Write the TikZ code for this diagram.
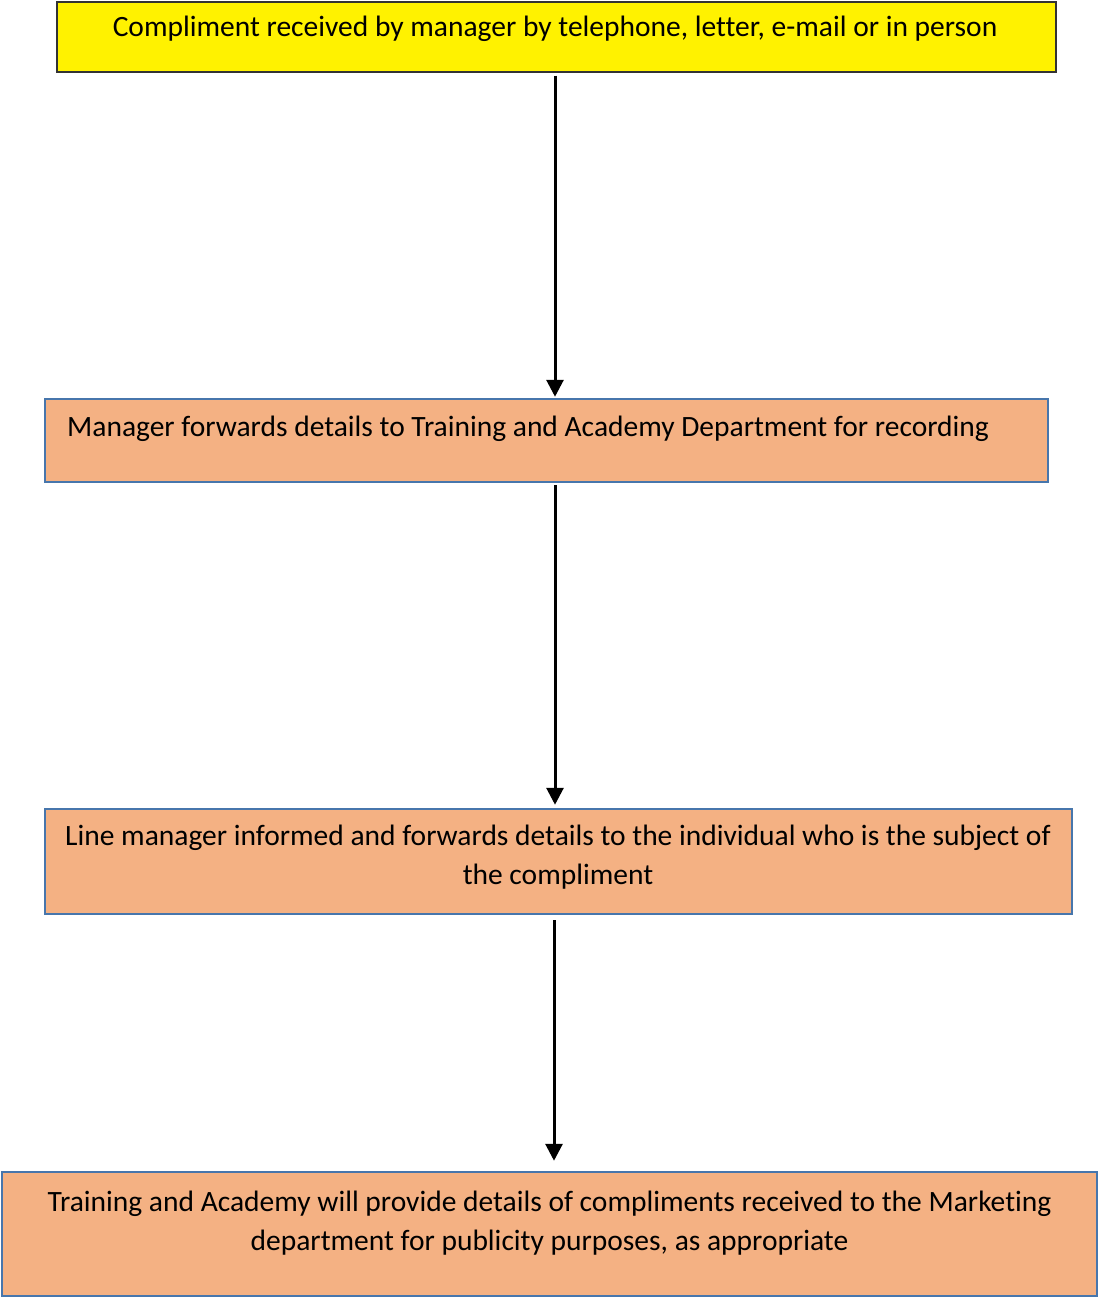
\documentclass[tikz,border=0pt]{standalone}
\usepackage{fontspec}
\setmainfont[Ligatures={NoCommon}]{Carlito}
\usetikzlibrary{arrows.meta}
\definecolor{peach}{RGB}{244,177,131}
\definecolor{edgeblue}{RGB}{71,118,172}
\tikzset{
  stepbox/.style={draw=edgeblue,line width=2.5pt,fill=peach,inner sep=0pt},
  startbox/.style={draw=black!80,line width=1.5pt,fill=yellow,inner sep=0pt},
  steptext/.style={anchor=base,align=center,inner sep=0pt,font=\fontsize{29.5}{39}\selectfont},
  flow/.style={-{Triangle[length=17pt,width=17pt]},line width=3pt}
}
\begin{document}
\begin{tikzpicture}[x=1pt,y=-1pt]
			\useasboundingbox (0,0) rectangle (1098,1297);
			\node[startbox,minimum width=999pt,minimum height=70pt] (box1) at (556.5,37) {};
			\node[steptext] (txt1) at (555,37) {Compliment received by manager by telephone, letter, e-mail or in person};
			\node[stepbox,minimum width=1003pt,minimum height=83pt] (box2) at (546.5,440.5) {};
			\node[steptext] (txt2) at (528,436) {Manager forwards details to Training and Academy Department for recording};
			\node[stepbox,minimum width=1027pt,minimum height=105pt] (box3) at (558.5,861.5) {};
			\node[steptext] (txt3) at (558,884) {Line manager informed and forwards details to the individual who is the subject of\\the compliment};
			\node[stepbox,minimum width=1095pt,minimum height=124pt] (box4) at (549.5,1234) {};
			\node[steptext] (txt4) at (549.5,1250) {Training and Academy will provide details of compliments received to the Marketing\\department for publicity purposes, as appropriate};
			\coordinate (spine) at (555,0);
			\draw[flow] (box1.south -| spine) ++(0,3) -- ([yshift=1pt]box2.north -| spine);
			\draw[flow] (box2.south -| spine) ++(0,2) -- ([yshift=3pt]box3.north -| spine);
			\draw[flow] ([xshift=-1pt]box3.south -| spine) ++(0,5) -- ([xshift=-1pt,yshift=10pt]box4.north -| spine);
\end{tikzpicture}
\end{document}
